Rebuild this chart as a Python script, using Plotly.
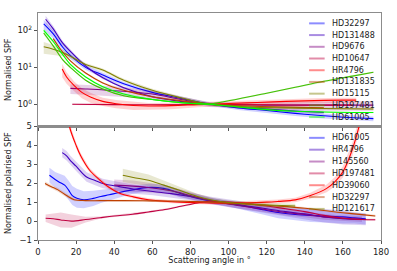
import plotly.graph_objects as go
from plotly.subplots import make_subplots

# ---------------- data: total intensity SPF (top) ----------------
top_names = ["HD32297", "HD131488", "HD9676", "HD10647", "HR4796",
             "HD131835", "HD15115", "HD197481", "HD61005"]
top_colors = ["#0000ff", "#4000bf", "#800080", "#bf0040", "#ff0000",
              "#bf4000", "#808000", "#40bf00", "#00ff00"]

t_HD32297_x = [3, 8, 13, 17, 25, 34, 45, 60, 75, 90, 105, 120, 135, 150, 163, 176]
t_HD32297_y = [150, 80, 35, 21, 10, 6.2, 3.6, 2.1, 1.45, 1.02, 0.8, 0.68, 0.57, 0.49, 0.44, 0.41]
t_HD32297_e = [0.3, 0.25, 0.2, 0.2, 0.15, 0.15, 0.12, 0.12, 0.12, 0.1, 0.12, 0.15, 0.15, 0.15, 0.15, 0.15]

t_HD131488_x = [4, 8, 13, 20, 27, 34, 45, 60, 75, 90, 105, 120, 135, 150]
t_HD131488_y = [200, 110, 45, 19, 9, 5.2, 2.8, 1.6, 1.2, 1.0, 0.85, 0.74, 0.66, 0.6]
t_HD131488_e = [0.25, 0.2, 0.15, 0.1, 0.08, 0.08, 0.08, 0.08, 0.08, 0.08, 0.1, 0.1, 0.12, 0.12]

t_HD9676_x = [17, 25, 35, 45, 60, 75, 90, 110, 130, 150, 176]
t_HD9676_y = [2.7, 2.6, 2.45, 2.25, 1.9, 1.35, 1.0, 0.96, 0.95, 0.95, 0.95]
t_HD9676_e = [0.3, 0.3, 0.3, 0.3, 0.25, 0.2, 0.15, 0.2, 0.25, 0.3, 0.3]

t_HD10647_x = [18, 40, 60, 90, 120, 150, 165]
t_HD10647_y = [1.0, 0.98, 0.97, 1.0, 0.97, 0.95, 0.95]
t_HD10647_e = [0.04, 0.04, 0.04, 0.04, 0.04, 0.05, 0.05]

t_HR4796_x = [12.7, 15, 19, 23, 27.5, 34, 41, 50, 58, 70, 84, 100, 115, 130, 145, 160, 167]
t_HR4796_y = [9, 5.5, 3.2, 2.1, 1.58, 1.2, 1.04, 0.93, 0.9, 0.92, 0.98, 1.05, 1.12, 1.2, 1.26, 1.3, 1.3]
t_HR4796_e = [0.4, 0.35, 0.3, 0.3, 0.3, 0.25, 0.25, 0.25, 0.2, 0.2, 0.15, 0.15, 0.15, 0.15, 0.15, 0.15, 0.15]

t_HD131835_x = [8, 12, 17, 25, 34, 45, 60, 75, 90, 110, 130, 150]
t_HD131835_y = [60, 30, 15, 7, 3.8, 2.4, 1.6, 1.25, 1.0, 0.9, 0.84, 0.8]
t_HD131835_e = [0.06, 0.05, 0.05, 0.05, 0.05, 0.05, 0.05, 0.05, 0.05, 0.05, 0.05, 0.05]

t_HD15115_x = [3, 8, 13, 17, 25, 34, 45, 60, 75, 90, 110, 130, 150, 176]
t_HD15115_y = [36, 31, 25, 20, 12, 8.5, 4.5, 2.4, 1.5, 1.0, 0.85, 0.8, 0.77, 0.75]
t_HD15115_e = [0.35, 0.3, 0.2, 0.12, 0.1, 0.1, 0.1, 0.1, 0.1, 0.1, 0.08, 0.08, 0.08, 0.08]

t_HD197481_x = [3, 8, 13, 17, 25, 34, 45, 60, 75, 90, 105, 120, 135, 150, 165, 176]
t_HD197481_y = [85, 38, 16, 10, 4.5, 2.6, 1.7, 1.35, 1.12, 1.03, 1.4, 2.0, 2.9, 4.2, 5.8, 7.4]
t_HD197481_e = [0.1, 0.08, 0.06, 0.05, 0.05, 0.05, 0.05, 0.05, 0.05, 0.05, 0.05, 0.05, 0.05, 0.05, 0.05, 0.05]

t_HD61005_x = [3, 8, 13, 17, 25, 34, 45, 60, 75, 90, 105, 120, 135, 150, 165, 176]
t_HD61005_y = [100, 50, 22, 12, 5.5, 3.0, 1.9, 1.35, 1.1, 1.0, 0.85, 0.72, 0.65, 0.62, 0.6, 0.6]
t_HD61005_e = [0.12, 0.1, 0.08, 0.06, 0.05, 0.05, 0.05, 0.05, 0.05, 0.05, 0.05, 0.05, 0.05, 0.05, 0.05, 0.05]

top_x = [t_HD32297_x, t_HD131488_x, t_HD9676_x, t_HD10647_x, t_HR4796_x,
         t_HD131835_x, t_HD15115_x, t_HD197481_x, t_HD61005_x]
top_y = [t_HD32297_y, t_HD131488_y, t_HD9676_y, t_HD10647_y, t_HR4796_y,
         t_HD131835_y, t_HD15115_y, t_HD197481_y, t_HD61005_y]
top_e = [t_HD32297_e, t_HD131488_e, t_HD9676_e, t_HD10647_e, t_HR4796_e,
         t_HD131835_e, t_HD15115_e, t_HD197481_e, t_HD61005_e]

# ---------------- data: polarised SPF (bottom) ----------------
bot_names = ["HD61005", "HR4796", "H145560", "HD197481", "HD39060", "HD32297", "HD121617"]
bot_colors = ["#0000ff", "#4000bf", "#800080", "#bf0040", "#ff0000", "#bf4000", "#808000"]

p_HD61005_x = [6, 9, 11, 14, 16, 18, 20.4, 24, 29, 33, 37.4, 42, 49.6, 58, 66, 75, 84, 92, 100, 109, 118, 126, 135, 143, 151, 160, 166, 172]
p_HD61005_y = [2.42, 2.2, 2.07, 1.9, 1.65, 1.35, 1.21, 1.13, 1.2, 1.3, 1.39, 1.5, 1.65, 1.78, 1.73, 1.45, 1.2, 1.04, 0.92, 0.78, 0.6, 0.45, 0.35, 0.3, 0.27, 0.22, 0.17, 0.12]
p_HD61005_e = [0.4, 0.4, 0.45, 0.5, 0.5, 0.5, 0.5, 0.45, 0.4, 0.35, 0.3, 0.25, 0.2, 0.2, 0.2, 0.2, 0.15, 0.15, 0.15, 0.2, 0.25, 0.3, 0.3, 0.35, 0.35, 0.35, 0.3, 0.3]

p_HR4796_x = [12.7, 15, 17, 20, 25.5, 30, 34, 42.5, 50, 60.3, 70, 80, 90, 100, 110, 120, 130, 140, 150, 160, 172]
p_HR4796_y = [3.62, 3.45, 3.2, 2.9, 2.33, 2.15, 1.99, 1.82, 1.7, 1.56, 1.45, 1.3, 1.1, 0.95, 0.8, 0.65, 0.5, 0.38, 0.22, 0.12, 0.08]
p_HR4796_e = [0.25, 0.25, 0.25, 0.25, 0.25, 0.25, 0.25, 0.25, 0.25, 0.2, 0.2, 0.2, 0.2, 0.2, 0.2, 0.25, 0.25, 0.3, 0.3, 0.3, 0.3]

p_H145560_x = [40, 50, 60, 70, 80, 90, 100, 110, 120, 130, 140, 150, 160, 170]
p_H145560_y = [1.9, 1.85, 1.75, 1.6, 1.35, 1.1, 0.9, 0.75, 0.6, 0.45, 0.35, 0.22, 0.15, 0.1]
p_H145560_e = [0.3, 0.3, 0.25, 0.2, 0.2, 0.15, 0.15, 0.15, 0.15, 0.15, 0.15, 0.15, 0.15, 0.15]

p_HD197481_x = [4, 8, 12, 17.6, 25, 32.6, 40, 49.6, 58, 66.6, 75, 83.6, 90, 100, 110, 120, 130, 140, 150, 160, 170, 177]
p_HD197481_y = [0.15, 0.12, 0.06, 0.0, 0.08, 0.18, 0.27, 0.36, 0.48, 0.61, 0.78, 0.96, 1.05, 1.0, 0.92, 0.8, 0.65, 0.5, 0.3, 0.15, 0.08, 0.07]
p_HD197481_e = [0.2, 0.3, 0.4, 0.35, 0.15, 0.06, 0.05, 0.05, 0.05, 0.05, 0.05, 0.05, 0.05, 0.05, 0.05, 0.05, 0.05, 0.05, 0.05, 0.05, 0.05, 0.05]

p_HD39060_x = [14, 16.5, 20, 22.4, 27, 32.6, 37, 42.8, 50, 58, 70, 83.6, 95, 109, 120, 126, 135, 143, 151.5, 156, 160, 165, 169]
p_HD39060_y = [6.5, 5.0, 4.0, 3.45, 2.7, 2.16, 1.8, 1.47, 1.28, 1.13, 1.02, 0.97, 0.95, 0.96, 1.0, 1.04, 1.12, 1.35, 1.73, 2.1, 2.6, 3.8, 5.2]
p_HD39060_e = [0.2, 0.2, 0.15, 0.15, 0.12, 0.1, 0.1, 0.08, 0.08, 0.08, 0.08, 0.08, 0.08, 0.1, 0.1, 0.1, 0.12, 0.15, 0.2, 0.25, 0.3, 0.35, 0.4]

p_HD32297_x = [3.7, 7, 10.5, 15, 19, 25, 32.6, 45, 60, 75, 83.6, 95, 110, 125, 140, 150, 160, 170, 177]
p_HD32297_y = [1.99, 1.82, 1.65, 1.35, 1.13, 1.08, 1.08, 1.08, 1.07, 1.05, 1.03, 0.98, 0.9, 0.8, 0.68, 0.56, 0.44, 0.34, 0.27]
p_HD32297_e = [0.1, 0.1, 0.1, 0.1, 0.08, 0.06, 0.06, 0.06, 0.06, 0.06, 0.06, 0.06, 0.06, 0.06, 0.06, 0.06, 0.06, 0.06, 0.06]

p_HD121617_x = [44.5, 50, 58, 66, 75, 83.6, 92, 100, 110, 120, 128, 135]
p_HD121617_y = [2.42, 2.3, 2.16, 1.9, 1.6, 1.3, 1.1, 0.98, 0.9, 0.85, 0.82, 0.8]
p_HD121617_e = [0.35, 0.33, 0.3, 0.25, 0.2, 0.15, 0.12, 0.12, 0.12, 0.12, 0.12, 0.12]

bot_x = [p_HD61005_x, p_HR4796_x, p_H145560_x, p_HD197481_x, p_HD39060_x, p_HD32297_x, p_HD121617_x]
bot_y = [p_HD61005_y, p_HR4796_y, p_H145560_y, p_HD197481_y, p_HD39060_y, p_HD32297_y, p_HD121617_y]
bot_e = [p_HD61005_e, p_HR4796_e, p_H145560_e, p_HD197481_e, p_HD39060_e, p_HD32297_e, p_HD121617_e]

x_ticks = [0, 20, 40, 60, 80, 100, 120, 140, 160, 180]
top_tickvals = [1, 10, 100]
top_ticktext = ["10<sup>0</sup>", "10<sup>1</sup>", "10<sup>2</sup>"]
bot_ticks = [-1, 0, 1, 2, 3, 4, 5]


def rgba(hexc, a):
    h = hexc.lstrip("#")
    return "rgba(%d,%d,%d,%.2f)" % (int(h[0:2], 16), int(h[2:4], 16), int(h[4:6], 16), a)


fig = make_subplots(rows=2, cols=1, shared_xaxes=True, vertical_spacing=0)

FONT = "DejaVu Sans"

for xs, ys, es, c in zip(top_x, top_y, top_e, top_colors):
    lo = [y * (1 - e) for y, e in zip(ys, es)]
    hi = [y * (1 + e) for y, e in zip(ys, es)]
    fig.add_trace(go.Scatter(x=xs + xs[::-1], y=hi + lo[::-1], fill="toself",
                             fillcolor=rgba(c, 0.18), line=dict(width=0),
                             mode="lines", showlegend=False, hoverinfo="skip"), row=1, col=1)
    fig.add_trace(go.Scatter(x=xs, y=ys, mode="lines", line=dict(color=c, width=1.1, shape="spline"),
                             showlegend=False), row=1, col=1)

for xs, ys, es, c in zip(bot_x, bot_y, bot_e, bot_colors):
    lo = [y - e for y, e in zip(ys, es)]
    hi = [y + e for y, e in zip(ys, es)]
    fig.add_trace(go.Scatter(x=xs + xs[::-1], y=hi + lo[::-1], fill="toself",
                             fillcolor=rgba(c, 0.18), line=dict(width=0),
                             mode="lines", showlegend=False, hoverinfo="skip"), row=2, col=1)
    fig.add_trace(go.Scatter(x=xs, y=ys, mode="lines", line=dict(color=c, width=1.1, shape="spline"),
                             showlegend=False), row=2, col=1)

# ---- compact legends drawn as annotations + short line shapes ----
W, H = 397, 271
ML, MR, MT, MB = 36, 8, 13, 28
PW, PH = W - ML - MR, H - MT - MB


def px2paper(px, py):
    return (px - ML) / PW, 1 - (py - MT) / PH


def legend(names, colors, y0, dy):
    for i, (n, c) in enumerate(zip(names, colors)):
        py = y0 + i * dy
        xa, ya = px2paper(315, py)
        xb, _ = px2paper(331, py)
        xt, _ = px2paper(337, py)
        fig.add_shape(type="line", xref="paper", yref="paper", x0=xa, x1=xb, y0=ya, y1=ya,
                      line=dict(color=rgba(c, 0.45), width=2))
        fig.add_annotation(xref="paper", yref="paper", x=xt, y=ya, text=n, showarrow=False,
                           xanchor="left", yanchor="middle",
                           font=dict(family=FONT, size=8, color="#222"))


legend(top_names, top_colors, 23.5, 11.87)
legend(bot_names, bot_colors, 139.5, 12.0)

axis_common = dict(showline=True, linecolor="#8c8c8c", linewidth=1.3, mirror=True,
                   ticks="outside", ticklen=3, tickcolor="#555", showgrid=False, zeroline=False,
                   tickfont=dict(family=FONT, size=8.5, color="#222"))

fig.update_xaxes(range=[0, 180], tickvals=x_ticks, **axis_common)
fig.update_xaxes(showticklabels=False, row=1, col=1)
fig.update_xaxes(title=dict(text="Scattering angle in °", standoff=1,
                            font=dict(family=FONT, size=8, color="#222")), row=2, col=1)
fig.update_yaxes(type="log", range=[-0.6, 2.47], tickvals=top_tickvals, ticktext=top_ticktext,
                 title=dict(text="Normalised SPF", standoff=4, font=dict(family=FONT, size=8, color="#222")),
                 row=1, col=1, **axis_common)
fig.update_yaxes(range=[-1, 5], tickvals=bot_ticks,
                 title=dict(text="Normalised polarised SPF", standoff=6, font=dict(family=FONT, size=8, color="#222")),
                 row=2, col=1, **axis_common)

fig.update_layout(width=W, height=H, margin=dict(l=ML, r=MR, t=MT, b=MB),
                  plot_bgcolor="white", paper_bgcolor="white", showlegend=False,
                  hovermode=False)

fig.write_html("out.html", config={"displayModeBar": False, "staticPlot": True},
               post_script="document.body.style.margin='0';document.body.style.overflow='hidden';")
